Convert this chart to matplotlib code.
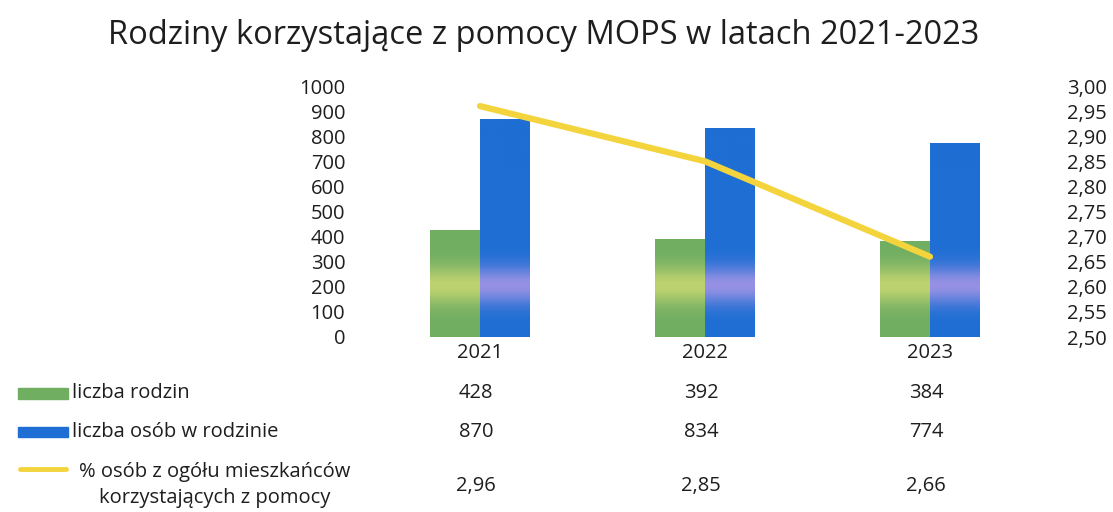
import numpy as np
import matplotlib
matplotlib.use('Agg')
import matplotlib.pyplot as plt
from matplotlib.ticker import FuncFormatter

plt.rcParams['font.family'] = ['Open Sans', 'DejaVu Sans']

lata = ['2021', '2022', '2023']
liczba_rodzin = [428, 392, 384]
liczba_osob = [870, 834, 774]
procent_osob = [2.96, 2.85, 2.66]
etykiety = ['liczba rodzin', 'liczba osób w rodzinie',
            '% osób z ogółu mieszkańców\nkorzystających z pomocy']

zielony = np.array([112, 174, 98]) / 255
zielony_jasny = np.array([190, 210, 112]) / 255
niebieski = np.array([30, 110, 212]) / 255
niebieski_jasny = np.array([150, 145, 228]) / 255
zolty = '#F4D43C'

fig = plt.figure(figsize=(11.13, 5.12), dpi=100)
ax = fig.add_axes([367.5 / 1113, 1 - 337 / 512, 675 / 1113, 251 / 512])
ax2 = ax.twinx()

x = np.arange(len(lata))
w = 0.222


def gradient_bar(ax, xc, h, base, band):
    bar = ax.bar(xc, h, width=w, color=base, linewidth=0)[0]
    v = np.linspace(0, h, 200)
    t = np.exp(-((v - 205) / 75) ** 2)[:, None]
    img = base[None, :] * (1 - t) + band[None, :] * t
    im = ax.imshow(img[:, None, :], extent=(xc - w / 2, xc + w / 2, 0, h),
                   origin='lower', aspect='auto', zorder=2)
    im.set_clip_path(bar)


for i in range(len(lata)):
    gradient_bar(ax, x[i] - w / 2, liczba_rodzin[i], zielony, zielony_jasny)
    gradient_bar(ax, x[i] + w / 2, liczba_osob[i], niebieski, niebieski_jasny)

ax.set_xlim(-0.5, 2.5)
ax.set_ylim(0, 1000)
ax.set_yticks(range(0, 1001, 100))
ax.set_xticks(x)
ax.set_xticklabels(lata)

ax2.plot(x, procent_osob, color=zolty, linewidth=4.5, solid_capstyle='round', zorder=5)
ax2.set_ylim(2.5, 3.0)
ax2.set_yticks(np.arange(2.5, 3.001, 0.05))
ax2.yaxis.set_major_formatter(FuncFormatter(lambda v, p: f'{v:.2f}'.replace('.', ',')))

for a in (ax, ax2):
    for s in a.spines.values():
        s.set_visible(False)
    a.tick_params(length=0, labelsize=14.5, colors='#1e1e1e')
ax.tick_params(axis='y', pad=16)
ax.tick_params(axis='x', pad=4)
ax2.tick_params(axis='y', pad=18)

fig.text(0.488, 1 - 35 / 512, 'Rodziny korzystające z pomocy MOPS w latach 2021-2023',
         ha='center', va='center', fontsize=23.5, color='#1e1e1e')

# tabela danych
rows_y = [393, 432, 486]
fig.patches.append(plt.Rectangle((18 / 1113, 1 - 399 / 512), 50 / 1113, 11 / 512,
                                 transform=fig.transFigure, color=zielony, figure=fig))
fig.patches.append(plt.Rectangle((18 / 1113, 1 - 437 / 512), 50 / 1113, 10 / 512,
                                 transform=fig.transFigure, color=niebieski, figure=fig))
fig.add_artist(plt.Line2D([20 / 1113, 66 / 1113], [1 - 469 / 512, 1 - 469 / 512],
                          transform=fig.transFigure, color=zolty, linewidth=3.5,
                          solid_capstyle='round'))
fig.text(72 / 1113, 1 - rows_y[0] / 512, etykiety[0], ha='left', va='center',
         fontsize=14.5, color='#1e1e1e')
fig.text(72 / 1113, 1 - rows_y[1] / 512, etykiety[1], ha='left', va='center',
         fontsize=14.5, color='#1e1e1e')
fig.text(215 / 1113, 1 - 485 / 512, etykiety[2], ha='center', va='center',
         fontsize=14.5, color='#1e1e1e', linespacing=1.45, multialignment='center')

wartosci = [[str(v) for v in liczba_rodzin],
            [str(v) for v in liczba_osob],
            [f'{v:.2f}'.replace('.', ',') for v in procent_osob]]
for r, row in enumerate(wartosci):
    for i, s in enumerate(row):
        xf = (367.5 + 225 * (i + 0.5) - 4) / 1113
        fig.text(xf, 1 - rows_y[r] / 512, s, ha='center', va='center',
                 fontsize=14.5, color='#1e1e1e')

fig.savefig('out.png', dpi=100)
